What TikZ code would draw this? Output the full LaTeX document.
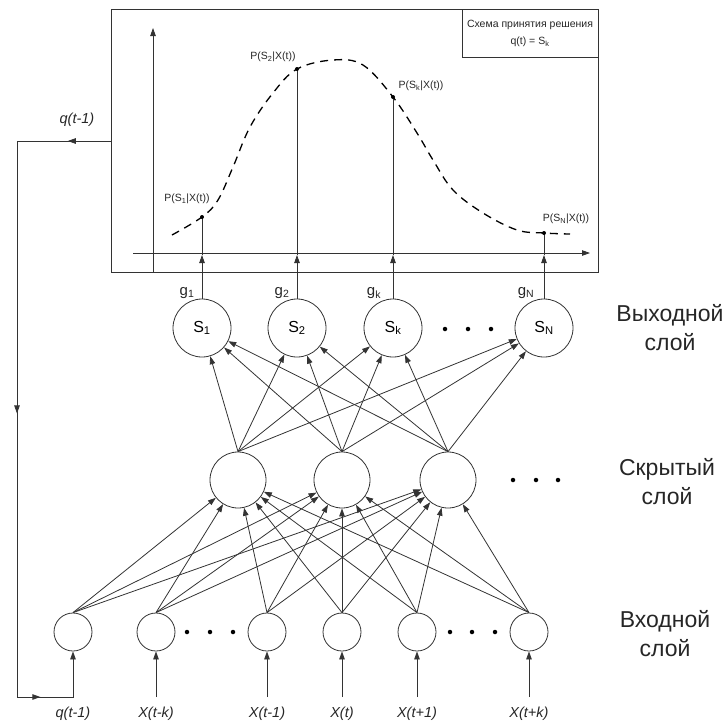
\documentclass[tikz,border=0pt]{standalone}
\usepackage{fontspec}
\setmainfont{Liberation Sans}
\usetikzlibrary{arrows.meta,decorations.markings}
\begin{document}
\begin{tikzpicture}[x=1pt,y=-1pt,
  ln/.style={draw=black!80, line width=0.8pt},
  arr/.style={ln, -{Triangle[length=8pt,width=5.5pt]}},
  midarr/.style={postaction={decorate}, decoration={markings, mark=at position #1 with {\arrow{Triangle[length=8pt,width=5.5pt]}}}},
  neuron/.style={circle, draw=black!80, line width=0.8pt, inner sep=0pt, fill=white},
  outn/.style={neuron, minimum size=58pt, font=\fontsize{16}{16}\selectfont},
  hidn/.style={neuron, minimum size=56pt},
  inn/.style={neuron, minimum size=38pt},
  layerlbl/.style={align=center, font=\fontsize{23}{29}\selectfont, text=black!85},
  inlbl/.style={font=\fontsize{14.5}{15}\selectfont\itshape, text=black!85},
  glbl/.style={font=\fontsize{15}{15}\selectfont, text=black!85},
  plbl/.style={font=\fontsize{10.5}{11}\selectfont, text=black!85},
  dot/.style={circle, fill=black, inner sep=0pt, minimum size=4.5pt},
  pdot/.style={circle, fill=black, inner sep=0pt, minimum size=4pt}
]
\useasboundingbox (0,0) rectangle (726,724);

% ---------- top panel ----------
\draw[ln] (111,9) rectangle (598,272);
\draw[ln] (462,9) rectangle (598,57);
\node[plbl, font=\fontsize{10.5}{12}\selectfont] (legend1) at (530,25) {Схема принятия решения};
\node[plbl, font=\fontsize{10.5}{12}\selectfont] (legend2) at (530,42) {q(t) = S\textsubscript{k}};

\coordinate (yb) at (153,272);
\coordinate (yt) at (153,28);
\coordinate (xl) at (133,253);
\coordinate (xr) at (590,253);
\draw[arr] (yb) -- (yt);
\draw[arr] (xl) -- (xr);

% dashed curve
\draw[black, line width=1.3pt, dash pattern=on 8pt off 6pt]
  plot[smooth, tension=0.6] coordinates {(172,235) (202,217) (218,200) (233,167) (250,127) (273,93) (297,69) (333,60) (363,65) (393,97) (417,133) (433,160) (453,190) (483,213) (517,230) (544,233) (570,234)};

\coordinate (p1) at (202,217);
\coordinate (p2) at (297,69);
\coordinate (pk) at (393,97);
\coordinate (pN) at (544,233);
\node[plbl] (lp1) at (187,199) {P(S\textsubscript{1}|X(t))};
\node[plbl] (lp2) at (273,57) {P(S\textsubscript{2}|X(t))};
\node[plbl] (lpk) at (421,86) {P(S\textsubscript{k}|X(t))};
\node[plbl] (lpN) at (566,219) {P(S\textsubscript{N}|X(t))};

% ---------- output layer ----------
\node[outn] (o1) at (202,328) {S\textsubscript{1}};
\node[outn] (o2) at (297,328) {S\textsubscript{2}};
\node[outn] (ok) at (393,328) {S\textsubscript{k}};
\node[outn] (oN) at (544,328) {S\textsubscript{N}};
\foreach \x in {445,468,491} \node[dot] at (\x,329) {};

\node[glbl] (g1) at (187,293) {g\textsubscript{1}};
\node[glbl] (g2) at (282,293) {g\textsubscript{2}};
\node[glbl] (gk) at (374,293) {g\textsubscript{k}};
\node[glbl] (gN) at (526,293) {g\textsubscript{N}};

\foreach \o/\p/\x in {o1/p1/202, o2/p2/297, ok/pk/393, oN/pN/544} {
  \coordinate (a\o) at (\x,255);
  \draw[arr] (\o.north) -- (a\o);
  \draw[ln] (a\o) -- (\p);
  \node[pdot] at (\p) {};
}

% ---------- hidden layer ----------
\node[hidn] (h1) at (238,480) {};
\node[hidn] (h2) at (342,480) {};
\node[hidn] (h3) at (448,480) {};
\foreach \x in {513,536,558} \node[dot] at (\x,480) {};

% ---------- input layer ----------
\node[inn] (i0) at (73,632) {};
\node[inn] (i1) at (156,632) {};
\node[inn] (i2) at (267,632) {};
\node[inn] (i3) at (342,632) {};
\node[inn] (i4) at (417,632) {};
\node[inn] (i5) at (529,632) {};
\foreach \x in {187,210,233,450,472,495} \node[dot] at (\x,632) {};

% connections
\foreach \h in {h1,h2,h3} \foreach \o in {o1,o2,ok,oN} \draw[arr] (\h.north) -- (\o);
\foreach \i in {i0,i1,i2,i3,i4,i5} \foreach \h in {h1,h2,h3} \draw[arr] (\i.north) -- (\h);

% input arrows and labels
\foreach \i/\x/\t in {i1/156/X(t-k), i2/267/X(t-1), i3/342/X(t), i4/417/X(t+1), i5/529/X(t+k)} {
  \coordinate (b\i) at (\x,697);
  \draw[arr] (b\i) -- (\i);
  \node[inlbl] (l\i) at (\x,714) {\t};
}
\node[inlbl] (li0) at (73,714) {q(t-1)};

% feedback loop
\coordinate (fb1) at (111,141);
\coordinate (fb2) at (17,141);
\coordinate (fb3) at (17,697);
\draw[ln, midarr=0.46] (fb1) -- (fb2);
\draw[ln, midarr=0.49] (fb2) -- (fb3);
\draw[arr, midarr=0.23] (fb3) -| (i0);
\node[inlbl] (lfb) at (77,120) {q(t-1)};

% layer labels
\node[layerlbl] (lo) at (670,328) {Выходной\\слой};
\node[layerlbl] (lh) at (667,482) {Скрытый\\слой};
\node[layerlbl] (li) at (665,634) {Входной\\слой};
\end{tikzpicture}
\end{document}
